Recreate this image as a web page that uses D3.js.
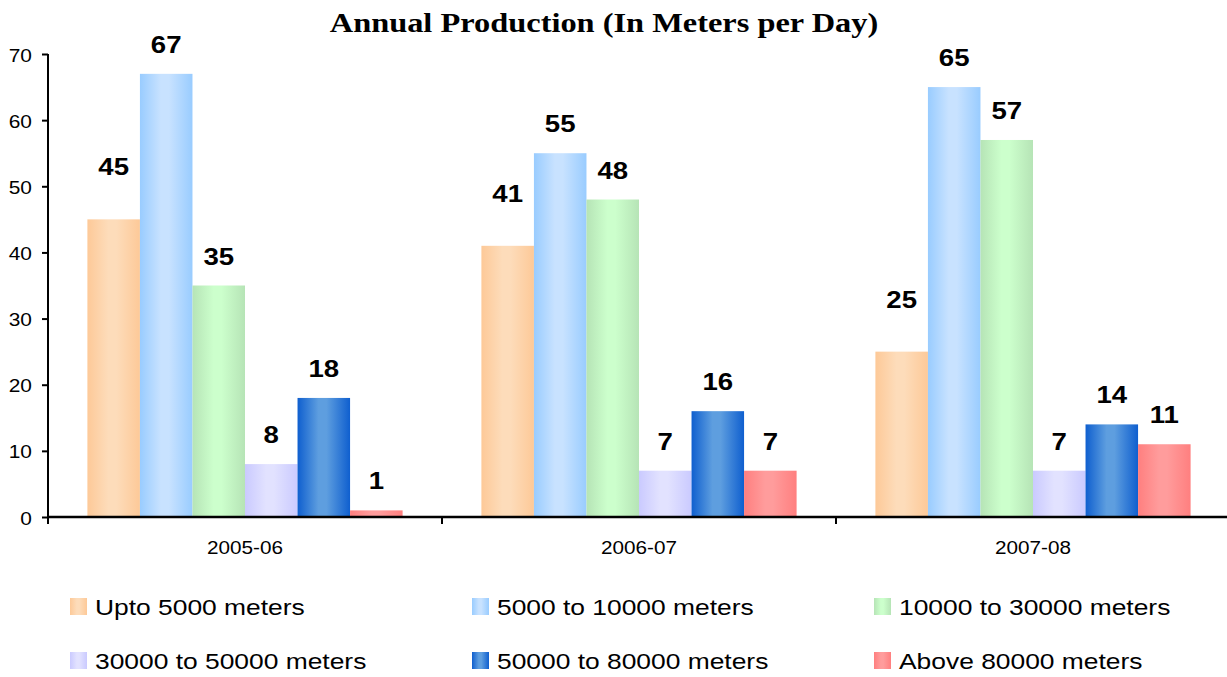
<!DOCTYPE html>
<html>
<head>
<meta charset="utf-8">
<script src="https://cdn.jsdelivr.net/npm/d3@7"></script>
<style>
  body { margin: 0; background: #fff; }
  svg { display: block; }
</style>
</head>
<body>
<div id="chart"></div>
<script>
const categories = ["2005-06", "2006-07", "2007-08"];
const seriesNames = ["Upto 5000 meters", "5000 to 10000 meters", "10000 to 30000 meters",
  "30000 to 50000 meters", "50000 to 80000 meters", "Above 80000 meters"];
const upto5000 = [45, 41, 25];
const from5000to10000 = [67, 55, 65];
const from10000to30000 = [35, 48, 57];
const from30000to50000 = [8, 7, 7];
const from50000to80000 = [18, 16, 14];
const above80000 = [1, 7, 11];
const yTicks = [0, 10, 20, 30, 40, 50, 60, 70];

const seriesValues = [upto5000, from5000to10000, from10000to30000,
  from30000to50000, from50000to80000, above80000];
// edge colour, centre colour of each bar's horizontal gradient
const shades = [
  ["#fdc998", "#fddcba"],
  ["#99ccff", "#c8e2ff"],
  ["#b6e4b6", "#ccffcc"],
  ["#cacaff", "#e2e2ff"],
  ["#0f5fcf", "#5e9edf"],
  ["#ff7f7f", "#ff9c9c"]
];

const W = 1227, H = 677;
let plot = { left: 48, right: 1230, top: 54, bottom: 517 };
const sans = "'Liberation Sans', Arial, sans-serif";

// the original is slightly stretched sideways, so text gets a horizontal scale
function place(sel, xf, yf, sx) {
  sel.attr("transform", (d, i) => "translate(" + xf(d, i) + "," + yf(d, i) + ") scale(" + sx + ",1)");
}

const svg = d3.select("#chart").append("svg")
  .attr("width", W)
  .attr("height", H);

const defs = svg.append("defs");
shades.forEach((s, i) => {
  const g = defs.append("linearGradient")
    .attr("id", "grad" + i)
    .attr("x1", 0).attr("x2", 1).attr("y1", 0).attr("y2", 0);
  g.append("stop").attr("offset", 0).attr("stop-color", s[0]);
  g.append("stop").attr("offset", 0.4).attr("stop-color", s[1]);
  g.append("stop").attr("offset", 0.55).attr("stop-color", s[1]);
  g.append("stop").attr("offset", 1).attr("stop-color", s[0]);
});

let x0 = d3.scaleBand()
  .domain(categories)
  .range([plot.left, plot.right]);

let x1 = d3.scaleBand()
  .domain(d3.range(seriesNames.length))
  .range([0, x0.bandwidth()])
  .paddingOuter(0.75);

let y = d3.scaleLinear()
  .domain([0, 70])
  .range([plot.bottom, plot.top]);

svg.append("text")
  .attr("transform", "translate(604,32) scale(1.2,1)")
  .attr("text-anchor", "middle")
  .style("font-family", "'Liberation Serif', 'Times New Roman', serif")
  .style("font-weight", "bold")
  .style("font-size", "27px")
  .text("Annual Production (In Meters per Day)");

// bars
const groups = svg.append("g")
  .selectAll("g")
  .data(categories)
  .enter()
  .append("g")
  .attr("transform", d => "translate(" + x0(d) + ",0)");

groups.selectAll("rect")
  .data((c, ci) => seriesValues.map((vals, si) => ({ si: si, v: vals[ci] })))
  .enter()
  .append("rect")
  .attr("x", d => x1(d.si))
  .attr("y", d => y(d.v))
  .attr("width", x1.bandwidth())
  .attr("height", d => y(0) - y(d.v))
  .attr("fill", d => "url(#grad" + d.si + ")");

groups.selectAll("text.lbl")
  .data((c, ci) => seriesValues.map((vals, si) => ({ si: si, v: vals[ci] })))
  .enter()
  .append("text")
  .attr("class", "lbl")
  .call(place, d => x1(d.si) + x1.bandwidth() / 2, d => y(d.v) - (d.si === 0 ? 44 : 21), 1.15)
  .attr("text-anchor", "middle")
  .style("font-family", sans)
  .style("font-weight", "bold")
  .style("font-size", "24px")
  .text(d => d.v);

// y axis
let yAxisCall = d3.axisLeft(y).tickValues(yTicks).tickSize(6).tickSizeOuter(0);
const yAxis = svg.append("g")
  .attr("class", "y-axis")
  .attr("transform", "translate(" + plot.left + ",0)")
  .call(yAxisCall);
yAxis.select(".domain").remove();
yAxis.selectAll("line").attr("stroke", "#000").attr("stroke-width", 2);
yAxis.selectAll("text")
  .attr("x", null).attr("dy", null)
  .call(place, () => -16, () => 7, 1.1)
  .style("font-family", sans)
  .style("font-size", "19px")
  .attr("fill", "#000");
yAxis.append("line")
  .attr("x1", 0).attr("x2", 0)
  .attr("y1", plot.top).attr("y2", plot.bottom + 7)
  .attr("stroke", "#000").attr("stroke-width", 2);

// x axis
const xAxis = svg.append("g").attr("class", "x-axis");
xAxis.append("line")
  .attr("x1", plot.left).attr("x2", W)
  .attr("y1", plot.bottom).attr("y2", plot.bottom)
  .attr("stroke", "#000").attr("stroke-width", 2.5);
xAxis.selectAll("line.tick")
  .data(categories.slice(1))
  .enter()
  .append("line")
  .attr("class", "tick")
  .attr("x1", d => x0(d)).attr("x2", d => x0(d))
  .attr("y1", plot.bottom).attr("y2", plot.bottom + 7)
  .attr("stroke", "#000").attr("stroke-width", 2);
xAxis.selectAll("text")
  .data(categories)
  .enter()
  .append("text")
  .call(place, d => x0(d) + x0.bandwidth() / 2, () => 554, 1.09)
  .attr("text-anchor", "middle")
  .style("font-family", sans)
  .style("font-size", "19px")
  .text(d => d);

// legend
const legend = svg.append("g")
  .selectAll("g")
  .data(seriesNames)
  .enter()
  .append("g")
  .attr("transform", (d, i) => "translate(" + (70 + (i % 3) * 402) + "," + (598 + Math.floor(i / 3) * 54) + ")");

legend.append("rect")
  .attr("width", 17)
  .attr("height", 17)
  .attr("fill", (d, i) => "url(#grad" + i + ")");

legend.append("text")
  .call(place, () => 25, () => 17, 1.2)
  .style("font-family", sans)
  .style("font-size", "22px")
  .text(d => d);
</script>
</body>
</html>
